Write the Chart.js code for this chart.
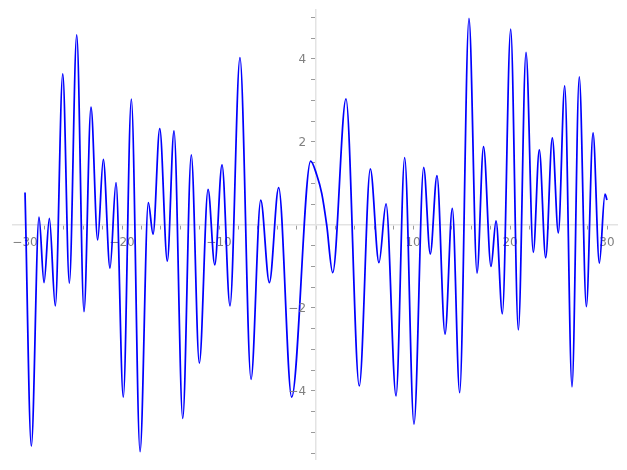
<!DOCTYPE html>
<html>
<head>
<meta charset="utf-8">
<script src="https://cdn.jsdelivr.net/npm/chart.js@4/dist/chart.umd.min.js"></script>
<style>
  html, body { margin: 0; padding: 0; background: #fff; }
  #wrap { width: 627px; height: 470px; }
</style>
</head>
<body>
<div id="wrap"><canvas id="plot"></canvas></div>
<script>
// Curve: turning points (and a few shoulder points)
const xs = [-30.0, -29.35, -28.56, -28.04, -27.49, -26.88, -26.11, -25.43, -24.67, -23.92,
  -23.20, -22.51, -21.93, -21.24, -20.62, -19.87, -19.04, -18.14, -17.29, -16.80,
  -16.11, -15.33, -14.64, -13.74, -12.86, -12.03, -11.13, -10.44, -9.69, -8.87,
  -7.84, -6.70, -5.70, -4.81, -3.85, -2.51, -0.55, 0.07, 0.59, 1.10,
  1.72, 3.09, 4.46, 5.60, 6.49, 7.22, 8.25, 9.14, 10.10, 11.10,
  11.78, 12.47, 13.30, 14.05, 14.81, 15.77, 16.60, 17.27, 18.04, 18.56,
  19.21, 20.07, 20.86, 21.65, 22.40, 23.02, 23.68, 24.36, 24.98, 25.64,
  26.39, 27.14, 27.87, 28.56, 29.21, 29.79, 30.0];
const ys = [0.78, -5.33, 0.19, -1.39, 0.16, -1.95, 3.64, -1.40, 4.58, -2.09,
  2.84, -0.36, 1.58, -1.04, 1.02, -4.15, 3.03, -5.46, 0.54, -0.22,
  2.32, -0.87, 2.27, -4.66, 1.69, -3.33, 0.86, -0.96, 1.45, -1.95,
  4.03, -3.72, 0.60, -1.39, 0.90, -4.15, 1.54, 1.21, 0.76, 0.0,
  -1.15, 3.04, -3.88, 1.35, -0.91, 0.51, -4.12, 1.62, -4.80, 1.39,
  -0.70, 1.19, -2.63, 0.40, -4.04, 4.98, -1.16, 1.89, -1.00, 0.10,
  -2.14, 4.72, -2.53, 4.16, -0.66, 1.81, -0.79, 2.10, -0.19, 3.35,
  -3.90, 3.57, -1.97, 2.22, -0.92, 0.74, 0.60];

// axis ranges and labelled ticks
const xRange = [-31.24, 31.03];
const yRange = [-5.64, 5.18];
const xLabelled = [-30, -20, -10, 10, 20, 30];
const yLabelled = [-4, -2, 2, 4];

const points = xs.map((x, i) => ({ x: x, y: ys[i] }));

function minusLabel(v) {
  return v < 0 ? '\u2212' + Math.abs(v) : String(v);
}

const tickFont = { family: 'DejaVu Sans', size: 12 };
const labelColor = '#808080';

// Chart.js puts labels of an axis placed by value right on the axis line,
// so the y labels are written here, a little to the left of the axis
const yLabelPlugin = {
  id: 'yLabels',
  afterDraw(chart) {
    const ctx = chart.ctx;
    const xAxis = chart.scales.x;
    const yAxis = chart.scales.y;
    const left = xAxis.getPixelForValue(0) - 10;
    ctx.save();
    ctx.font = tickFont.size + 'px "' + tickFont.family + '"';
    ctx.fillStyle = labelColor;
    ctx.textAlign = 'right';
    ctx.textBaseline = 'middle';
    yLabelled.forEach(v => {
      ctx.fillText(minusLabel(v), left, yAxis.getPixelForValue(v) + 1);
    });
    ctx.restore();
  }
};

new Chart(document.getElementById('plot'), {
  type: 'line',
  data: {
    datasets: [{
      data: points,
      borderColor: '#0000ff',
      borderWidth: 1.75,
      pointRadius: 0,
      fill: false,
      cubicInterpolationMode: 'monotone'
    }]
  },
  options: {
    responsive: true,
    maintainAspectRatio: false,
    animation: false,
    layout: { padding: { left: 13, right: 10, top: 10, bottom: 11 } },
    plugins: { legend: { display: false }, tooltip: { enabled: false } },
    scales: {
      x: {
        type: 'linear',
        position: { y: 0 },
        min: xRange[0],
        max: xRange[1],
        afterFit: (s) => { s.height = 0; },
        border: { display: true, color: '#e3e3e3', width: 1.5 },
        grid: { drawOnChartArea: false, drawTicks: true, tickLength: 4, color: '#9a9a9a' },
        ticks: {
          stepSize: 2,
          includeBounds: false,
          autoSkip: false,
          maxRotation: 0,
          padding: 7,
          color: labelColor,
          font: tickFont,
          callback: (v) => {
            const r = Math.round(v);
            return xLabelled.includes(r) ? minusLabel(r) : '';
          }
        }
      },
      y: {
        type: 'linear',
        position: { x: 0 },
        min: yRange[0],
        max: yRange[1],
        afterFit: (s) => { s.width = 0; },
        border: { display: true, color: '#e3e3e3', width: 1.5 },
        grid: { drawOnChartArea: false, drawTicks: true, tickLength: 4, color: '#9a9a9a' },
        ticks: {
          stepSize: 0.5,
          includeBounds: false,
          autoSkip: false,
          display: false
        }
      }
    }
  },
  plugins: [yLabelPlugin]
});
</script>
</body>
</html>
